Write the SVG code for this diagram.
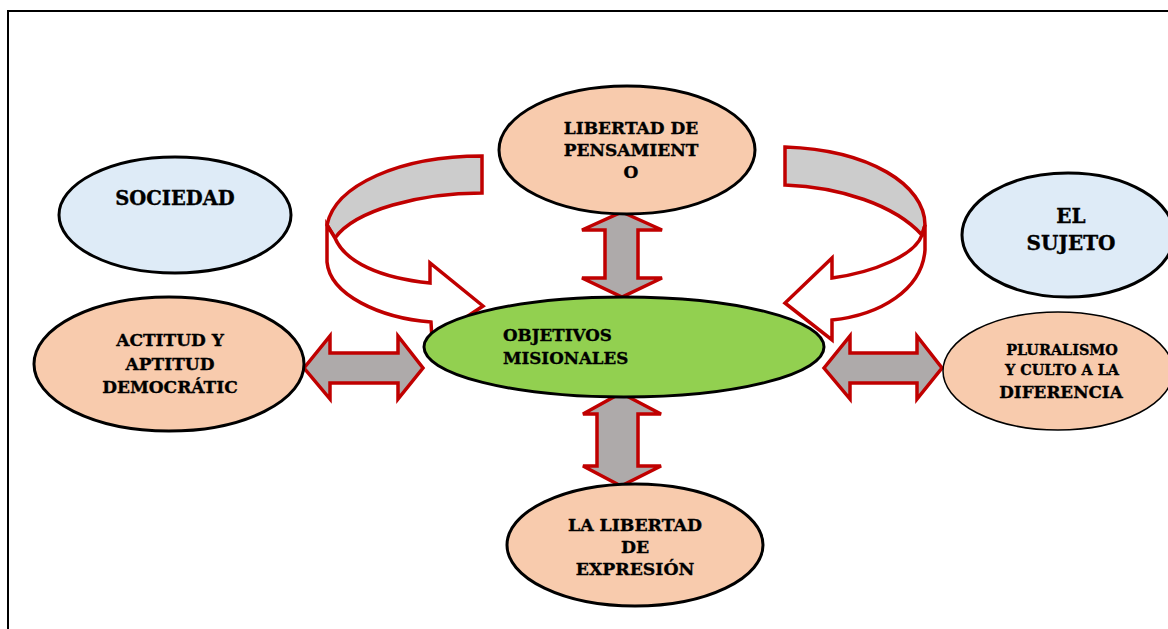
<svg xmlns="http://www.w3.org/2000/svg" width="1168" height="629" viewBox="0 0 1168 629">
<style>
.peach{fill:#F8CBAD;stroke:#000;stroke-width:3}
.blue{fill:#DEEBF7;stroke:#000;stroke-width:3}
.green{fill:#92D050;stroke:#000;stroke-width:3}
.dbl{fill:#AEAAAA;stroke:#C00000;stroke-width:3.5;stroke-linejoin:miter}
.band{fill:#CCCCCC;stroke:#C00000;stroke-width:3.5;stroke-linejoin:miter}
.front{fill:#FFFFFF;stroke:#C00000;stroke-width:3.5;stroke-linejoin:miter}
text{font-family:"DejaVu Serif","Liberation Serif",serif;font-weight:bold;fill:#000;stroke:#000;stroke-width:0.35;text-anchor:middle}
</style>
<rect x="0" y="0" width="1168" height="629" fill="#FFFFFF"/>
<path d="M8,629 L8,11 L1168,11" fill="none" stroke="#000" stroke-width="2"/>
<g id="connectors">
  <path class="band" d="M482,156 C400,156 335,185 327,225 L335,238 C355,210 420,193 482,193 Z"/>
  <path class="front" d="M327,225 L327,262 C330,295 380,318 431,322 L432,340 L483,306 L430,263 L430,283 C380,278 345,262 335,238 Z"/>
  <path class="band" d="M785,147 C870,150 925,185 925,225 L922,235 C895,205 840,187 785,185 Z"/>
  <path class="front" d="M925,225 L925,250 C922,290 880,315 832,320 L832,340 L785,303 L832,258 L832,278 C875,272 915,255 922,235 Z"/>
  <path class="dbl" d="M304,368 L330,336 L330,353 L398,353 L398,336 L423,368 L398,399 L398,383 L330,383 L330,399 Z"/>
  <path class="dbl" d="M824,368 L850,336 L850,353 L917,353 L917,336 L942,368 L917,399 L917,383 L850,383 L850,399 Z"/>
  <path class="dbl" d="M622,212 L662,230 L638,230 L638,278 L662,278 L622,297 L582,278 L605,278 L605,230 L582,230 Z"/>
  <path class="dbl" d="M621,393 L661,414 L638,414 L638,466 L661,466 L621,486 L583,466 L597,466 L597,414 L583,414 Z"/>
</g>
<g id="sociedad">
  <ellipse class="blue" cx="175" cy="215" rx="116" ry="58"/>
  <text x="175" y="205" font-size="19.5">SOCIEDAD</text>
</g>
<g id="libertad-pensamiento">
  <ellipse class="peach" cx="627" cy="150" rx="128" ry="64"/>
  <text x="631" y="134" font-size="17">LIBERTAD DE</text>
  <text x="631" y="156" font-size="17">PENSAMIENT</text>
  <text x="631" y="178" font-size="17">O</text>
</g>
<g id="el-sujeto">
  <ellipse class="blue" cx="1068" cy="235" rx="106" ry="62"/>
  <text x="1071" y="223" font-size="20">EL</text>
  <text x="1071" y="250" font-size="20">SUJETO</text>
</g>
<g id="actitud">
  <ellipse class="peach" cx="169" cy="364" rx="135" ry="67"/>
  <text x="170" y="346" font-size="17">ACTITUD Y</text>
  <text x="170" y="370" font-size="17">APTITUD</text>
  <text x="170" y="393" font-size="17">DEMOCRÁTIC</text>
</g>
<g id="objetivos">
  <ellipse class="green" cx="624" cy="347" rx="200" ry="50"/>
  <text x="503" y="341" font-size="16.7" style="text-anchor:start">OBJETIVOS</text>
  <text x="503" y="364" font-size="16.7" style="text-anchor:start">MISIONALES</text>
</g>
<g id="pluralismo">
  <ellipse cx="1058" cy="371" rx="115" ry="59" fill="#F8CBAD" stroke="#000" stroke-width="1.5"/>
  <text x="1062" y="355" font-size="14.4">PLURALISMO</text>
  <text x="1062" y="375" font-size="14.4">Y CULTO A LA</text>
  <text x="1061" y="398" font-size="16.8">DIFERENCIA</text>
</g>
<g id="libertad-expresion">
  <ellipse class="peach" cx="635" cy="545" rx="128" ry="61"/>
  <text x="635" y="531" font-size="17.3">LA LIBERTAD</text>
  <text x="635" y="553" font-size="17.3">DE</text>
  <text x="635" y="575" font-size="17.3">EXPRESIÓN</text>
</g>
</svg>
